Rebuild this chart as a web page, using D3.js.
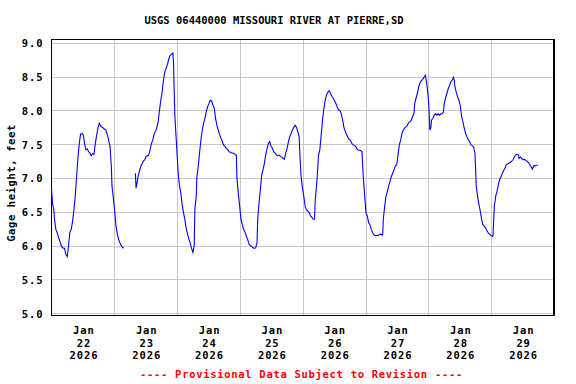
<!DOCTYPE html>
<html>
<head>
<meta charset="utf-8">
<script src="https://cdn.jsdelivr.net/npm/d3@7"></script>
<style>
  html, body { margin: 0; padding: 0; background: #fff; }
  svg { display: block; }
  text { font-family: "DejaVu Sans Mono", "Liberation Mono", monospace; font-weight: bold; }
</style>
</head>
<body>
<svg id="chart" width="576" height="384"></svg>
<script>
// ---------------- DATA ----------------
const chartTitle = "USGS 06440000 MISSOURI RIVER AT PIERRE,SD";
const yAxisTitle = "Gage height, feet";
const footnote = "---- Provisional Data Subject to Revision ----";
const monthLabel = "Jan";
const dayLabels = ["22", "23", "24", "25", "26", "27", "28", "29"];
const yearLabel = "2026";
const yTickValues = [5.0, 5.5, 6.0, 6.5, 7.0, 7.5, 8.0, 8.5, 9.0];

// hours since 2026-01-22 00:00 (null value = gap in record)
const hoursSinceStart = [
  0, 0.38, 0.89, 1.15, 1.66, 2.17, 2.68, 3.19, 3.70, 4.21, 4.98, 5.49, 6.00, 6.51, 7.02, 7.53, 8.05, 8.56, 9.07, 9.58,
  10.09, 10.60, 11.11, 11.62, 12.13, 12.64, 13.15, 13.66, 14.17, 14.69, 15.20, 15.71, 16.22, 16.73, 17.24, 17.75, 18.26, 18.77, 19.28, 19.79,
  20.30, 20.82, 21.33, 21.84, 22.35, 22.86, 23.11, 23.62, 24.14, 24.65, 25.16, 25.67, 26.18, 26.69, 27.20, 27.71,
  30.0,
  32.05, 32.31, 32.56, 33.07, 33.59, 34.10, 34.61, 35.12, 35.63, 36.14, 36.65, 37.16, 37.67, 38.18, 38.69, 39.20, 39.71, 40.23, 40.74, 41.25,
  41.76, 42.27, 42.78, 43.29, 43.80, 44.31, 44.82, 45.33, 45.84, 46.36, 46.61, 46.87, 47.12, 47.63,
  47.89, 48.40, 48.91, 49.42, 49.93, 50.44, 50.95, 51.46, 51.97, 52.48, 53.00, 53.51, 54.02, 54.53, 54.78, 55.29, 55.55, 56.06, 56.57, 57.08,
  57.59, 58.10, 58.61, 59.12, 59.63, 60.14, 60.66, 61.17, 61.68, 62.19, 62.70, 63.21, 63.72, 64.23, 64.74, 65.25, 65.76, 66.27, 66.78, 67.30,
  67.81, 68.32, 68.83, 69.34, 69.85, 70.36, 70.62, 70.87, 71.38, 71.89, 72.40, 72.91, 73.42, 73.94, 74.45, 74.96, 75.47, 75.98, 76.49, 77.00,
  77.51, 78.02, 78.53, 78.79, 79.30, 79.81, 80.32, 80.83, 81.34, 81.85, 82.36, 82.87, 83.38, 83.89, 84.40, 84.91, 85.42, 85.93, 86.45, 86.96,
  87.47, 87.98, 88.49, 89.00, 89.51, 90.02, 90.53, 91.04, 91.55, 92.06, 92.57, 93.09, 93.60, 94.11, 94.62, 94.87, 95.38,
  95.90, 96.41, 96.92, 97.43, 97.94, 98.45, 98.96, 99.47, 99.98, 100.50, 100.75, 101.26, 101.52, 102.03, 102.54, 103.05, 103.56, 104.07, 104.58, 105.09,
  105.60, 106.11, 106.63, 107.14, 107.65, 108.16, 108.67, 109.18, 109.69, 110.20, 110.71, 111.22, 111.73, 112.24, 112.76, 113.27, 113.78, 114.29, 114.80, 115.31,
  115.82, 116.33, 116.84, 117.35, 117.86, 118.37, 118.62, 119.13, 119.64, 120.15, 120.66, 121.17, 121.68, 122.19, 122.70, 123.21, 123.72, 124.23, 124.74, 125.25,
  125.76, 126.28, 126.53, 126.78, 127.29, 127.80, 128.31, 128.82, 129.33, 129.84, 130.35, 130.86, 131.37, 131.88, 132.39, 132.90, 133.41, 133.92, 134.43, 134.94,
  135.45, 135.96, 136.47, 136.98, 137.49, 138.00, 138.51, 138.77, 139.28, 139.79, 140.30, 140.81, 141.32, 141.83, 142.34, 142.85, 143.36, 143.87,
  144.17, 144.56, 144.94, 145.20, 145.71, 146.22, 146.73, 147.24, 147.75, 148.26, 148.77, 149.28, 149.79, 150.05, 150.56, 151.07, 151.58, 152.09, 152.60, 153.11,
  153.62, 153.88, 154.13, 154.64, 155.15, 155.66, 156.17, 156.69, 157.20, 157.71, 158.22, 158.73, 159.24, 159.75, 160.26, 160.77, 161.28, 161.79, 162.30, 162.81,
  163.32, 163.83, 164.34, 164.85, 165.36, 165.88, 166.39, 166.90, 167.41, 167.92, 168.43, 168.69, 168.94, 169.20, 169.71, 170.22, 170.73, 171.24, 171.75, 172.26,
  172.77, 173.28, 173.79, 174.30, 174.81, 175.32, 175.83, 176.34, 176.85, 177.36, 177.87, 178.38, 178.64, 179.15, 179.66, 180.17, 180.68, 181.19, 181.70, 182.21,
  182.72, 183.23, 183.74, 184.25, 184.76, 185.27, 185.78
];
const gageHeightFt = [
  6.85, 6.63, 6.53, 6.39, 6.24, 6.19, 6.12, 6.07, 6.00, 5.97, 5.96, 5.87, 5.84, 6.00, 6.20, 6.24, 6.36, 6.53, 6.73, 7.02,
  7.29, 7.51, 7.65, 7.66, 7.64, 7.51, 7.42, 7.43, 7.39, 7.37, 7.33, 7.36, 7.35, 7.51, 7.63, 7.74, 7.81, 7.77, 7.75, 7.74,
  7.72, 7.71, 7.64, 7.56, 7.47, 7.17, 6.88, 6.71, 6.51, 6.29, 6.17, 6.09, 6.04, 6.00, 5.97, 5.97,
  null,
  7.07, 6.85, 6.90, 7.02, 7.10, 7.17, 7.21, 7.25, 7.27, 7.32, 7.33, 7.34, 7.42, 7.51, 7.56, 7.65, 7.69, 7.74, 7.83, 8.00,
  8.15, 8.27, 8.45, 8.57, 8.62, 8.68, 8.76, 8.81, 8.83, 8.85, 8.72, 8.30, 7.93, 7.59,
  7.42, 7.07, 6.88, 6.78, 6.61, 6.49, 6.39, 6.26, 6.17, 6.10, 6.04, 5.96, 5.90, 6.00, 6.53, 6.73, 7.02, 7.17, 7.37, 7.56,
  7.71, 7.81, 7.88, 7.98, 8.05, 8.10, 8.15, 8.14, 8.08, 8.03, 7.88, 7.78, 7.71, 7.64, 7.59, 7.54, 7.49, 7.47, 7.44, 7.42,
  7.39, 7.38, 7.37, 7.37, 7.36, 7.34, 7.34, 6.98, 6.78, 6.58, 6.39, 6.31, 6.24, 6.20, 6.14, 6.09, 6.02, 6.00, 5.99, 5.97,
  5.96, 5.97, 6.04, 6.39, 6.63, 6.83, 7.05, 7.12, 7.22, 7.34, 7.44, 7.51, 7.54, 7.47, 7.44, 7.39, 7.37, 7.34, 7.33, 7.34,
  7.32, 7.31, 7.29, 7.28, 7.37, 7.44, 7.54, 7.61, 7.66, 7.71, 7.75, 7.78, 7.75, 7.69, 7.61, 7.37, 7.02,
  6.85, 6.73, 6.58, 6.53, 6.51, 6.49, 6.44, 6.42, 6.39, 6.39, 6.66, 6.88, 7.02, 7.34, 7.42, 7.64, 7.86, 8.03, 8.15, 8.23,
  8.27, 8.29, 8.25, 8.21, 8.18, 8.14, 8.10, 8.05, 8.01, 8.00, 7.95, 7.86, 7.75, 7.69, 7.64, 7.60, 7.57, 7.55, 7.51, 7.49,
  7.48, 7.46, 7.42, 7.41, 7.41, 7.40, 7.39, 7.02, 6.75, 6.49, 6.44, 6.34, 6.31, 6.24, 6.19, 6.16, 6.15, 6.15, 6.15, 6.16,
  6.17, 6.16, 6.16, 6.39, 6.58, 6.73, 6.80, 6.88, 6.95, 7.02, 7.07, 7.12, 7.18, 7.19, 7.34, 7.49, 7.56, 7.66, 7.71, 7.74,
  7.76, 7.78, 7.82, 7.83, 7.86, 7.91, 7.96, 8.10, 8.18, 8.25, 8.35, 8.41, 8.44, 8.46, 8.49, 8.52, 8.40, 8.23,
  8.08, 7.71, 7.74, 7.86, 7.88, 7.93, 7.95, 7.93, 7.95, 7.93, 7.95, 7.95, 7.98, 8.10, 8.18, 8.25, 8.32, 8.37, 8.42, 8.45,
  8.49, 8.45, 8.35, 8.27, 8.20, 8.15, 8.08, 7.91, 7.83, 7.74, 7.66, 7.61, 7.57, 7.54, 7.49, 7.48, 7.46, 7.37, 6.88, 6.73,
  6.61, 6.51, 6.39, 6.31, 6.29, 6.26, 6.22, 6.19, 6.17, 6.15, 6.14, 6.14, 6.36, 6.58, 6.73, 6.80, 6.90, 6.98, 7.02, 7.07,
  7.11, 7.15, 7.20, 7.21, 7.22, 7.23, 7.25, 7.27, 7.31, 7.34, 7.35, 7.34, 7.29, 7.31, 7.29, 7.27, 7.28, 7.26, 7.25, 7.23,
  7.20, 7.17, 7.13, 7.18, 7.18, 7.19, 7.19
];

// ---------------- LAYOUT ----------------
const startDate = new Date(2026, 0, 22, 0, 0, 0);
const endDate = new Date(2026, 0, 30, 0, 0, 0);
const toDate = h => new Date(startDate.getTime() + h * 3600 * 1000);

const frame = { left: 51.5, right: 554, top: 39.5, bottom: 315.5 };
const x = d3.scaleTime().domain([startDate, endDate]).range([frame.left, frame.right]);
const y = d3.scaleLinear().domain([5, 9]).range([313.3, 42.8]);

const svg = d3.select("#chart");
const gridColor = "#c8c8c8";

// horizontal gridlines + y tick labels
const yAxis = d3.axisLeft(y)
  .tickValues(yTickValues)
  .tickFormat(d3.format(".1f"))
  .tickSize(-(frame.right - frame.left))
  .tickPadding(8);
const gy = svg.append("g")
  .attr("transform", `translate(${frame.left},0)`)
  .call(yAxis);
gy.select(".domain").remove();
gy.selectAll(".tick line").attr("stroke", gridColor).attr("shape-rendering", "crispEdges");
gy.selectAll(".tick text")
  .attr("fill", "#000")
  .style("font-size", "10.5px")
  .style("letter-spacing", "0.9px")
  .attr("dy", "0.36em");

// vertical gridlines at midnights
const midnights = d3.range(1, 8).map(d => new Date(2026, 0, 22 + d));
const gxGrid = svg.append("g")
  .attr("transform", `translate(0,${frame.bottom})`)
  .call(d3.axisBottom(x).tickValues(midnights).tickFormat("").tickSize(-(frame.bottom - frame.top)));
gxGrid.select(".domain").remove();
gxGrid.selectAll(".tick line").attr("stroke", gridColor).attr("shape-rendering", "crispEdges");

// x labels at noon
const noons = dayLabels.map((d, i) => new Date(2026, 0, 22 + i, 12));
const gx = svg.append("g")
  .attr("transform", `translate(0,${frame.bottom})`)
  .call(d3.axisBottom(x).tickValues(noons).tickSize(0).tickFormat(""));
gx.select(".domain").remove();
gx.selectAll(".tick line").remove();
gx.selectAll(".tick text").each(function(d, i) {
  const t = d3.select(this)
    .attr("y", 0).attr("dy", null)
    .attr("fill", "#000")
    .style("font-size", "10.5px")
    .style("letter-spacing", "0.9px")
    .text(null);
  [monthLabel, dayLabels[i], yearLabel].forEach((s, k) => {
    t.append("tspan").attr("x", 0.5).attr("y", 18.7 + k * 12.6).text(s);
  });
});

// frame
svg.append("rect")
  .attr("x", frame.left).attr("y", frame.top)
  .attr("width", frame.right - frame.left).attr("height", frame.bottom - frame.top)
  .attr("fill", "none").attr("stroke", "#000").attr("stroke-width", 1.3)
  .attr("shape-rendering", "crispEdges");

// data line
const data = hoursSinceStart.map((h, i) => ({ t: toDate(h), v: gageHeightFt[i] }));
const line = d3.line()
  .defined(d => d.v !== null)
  .x(d => x(d.t))
  .y(d => y(d.v));
svg.append("path")
  .datum(data)
  .attr("d", line)
  .attr("fill", "none")
  .attr("stroke", "#0000ff")
  .attr("stroke-width", 1.1);

// title
svg.append("text")
  .attr("x", 274).attr("y", 24)
  .attr("text-anchor", "middle")
  .style("font-size", "10.5px")
  .text(chartTitle);

// y-axis title
svg.append("text")
  .attr("transform", "translate(14.5,183) rotate(-90)")
  .attr("text-anchor", "middle")
  .style("font-size", "10.5px")
  .style("letter-spacing", "0.6px")
  .text(yAxisTitle);

// footnote
svg.append("text")
  .attr("x", 301.5).attr("y", 378)
  .attr("text-anchor", "middle")
  .attr("fill", "#ff0000")
  .style("font-size", "10.5px")
  .style("letter-spacing", "0.7px")
  .text(footnote);
</script>
</body>
</html>
